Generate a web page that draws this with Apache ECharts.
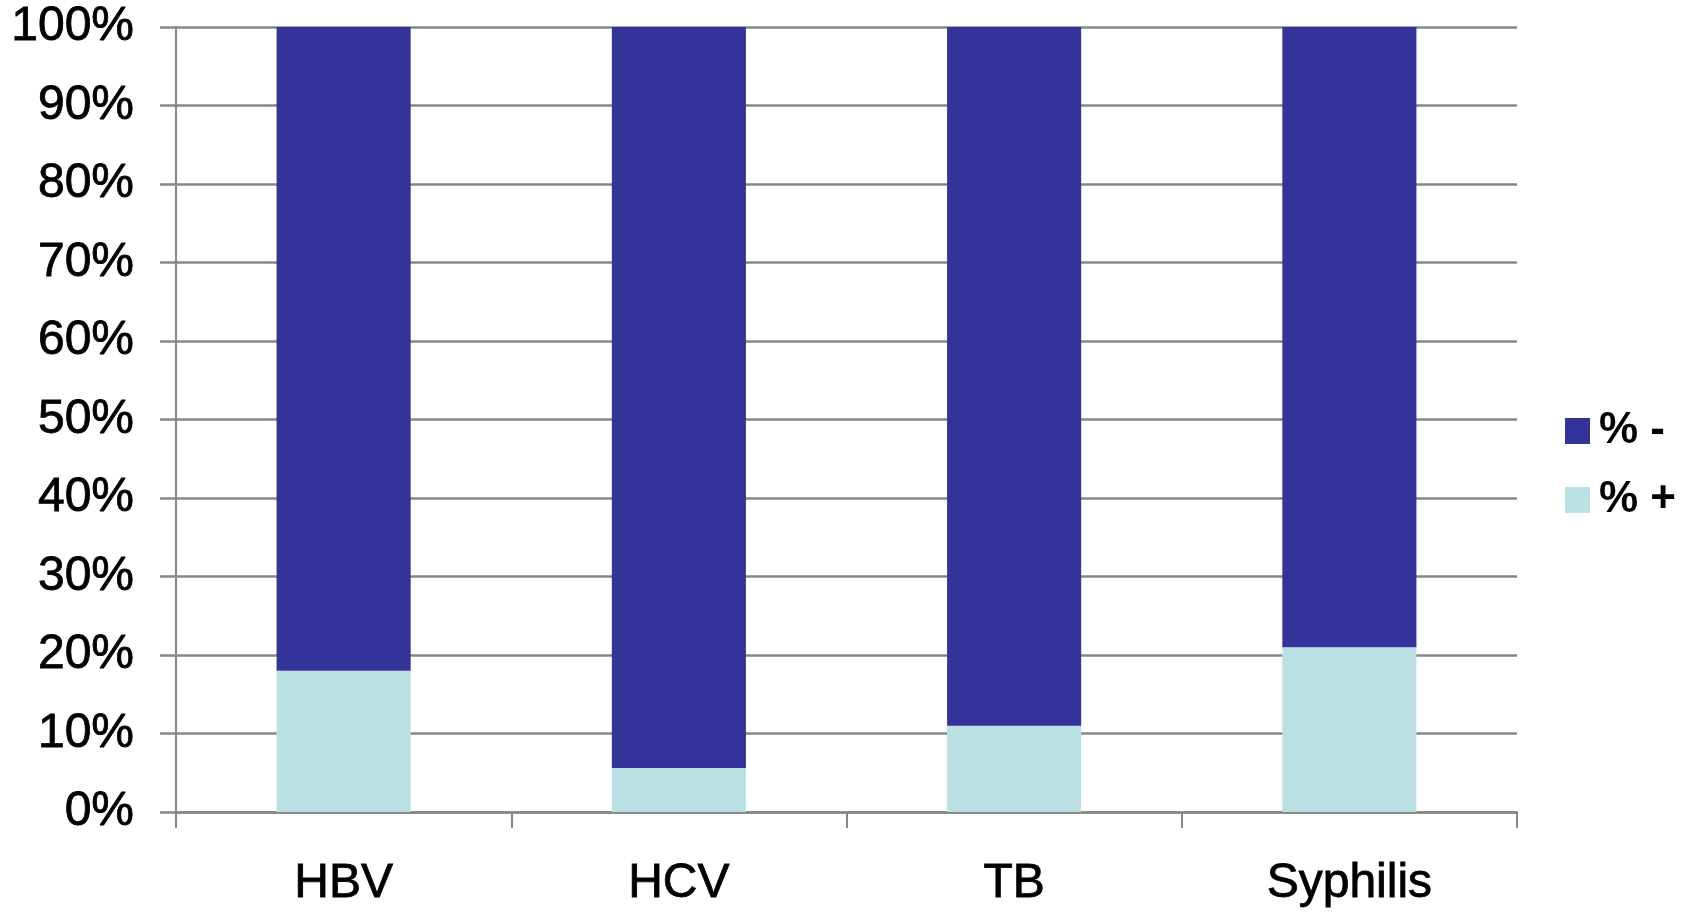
<!DOCTYPE html>
<html>
<head>
<meta charset="utf-8">
<script src="https://cdn.jsdelivr.net/npm/echarts@6/dist/echarts.min.js"></script>
<style>html,body{margin:0;padding:0;background:#fff;}#c{width:1691px;height:912px;}</style>
</head>
<body>
<div id="c"></div>
<script>
const categories = ['HBV', 'HCV', 'TB', 'Syphilis'];
const positive = [18.0, 5.6, 11.0, 21.0];
const negative = [82.0, 94.4, 89.0, 79.0];
const seriesNames = ['% -', '% +'];

const chart = echarts.init(document.getElementById('c'));
const font = 'Liberation Sans, Arial, sans-serif';
chart.setOption({
  animation: false,
  backgroundColor: '#ffffff',
  grid: { left: 176, right: 174, top: 27, bottom: 100, containLabel: false },
  legend: {
    data: seriesNames,
    orient: 'vertical',
    left: 1560, top: 403,
    itemWidth: 25, itemHeight: 26, itemGap: 23,
    icon: 'rect',
    textStyle: { fontFamily: font, fontSize: 44, fontWeight: 'bold', color: '#000', lineHeight: 46, padding: [0, 0, 0, 4] }
  },
  xAxis: {
    type: 'category',
    data: categories,
    boundaryGap: true,
    axisLine: { show: true, lineStyle: { color: '#878787', width: 2.5 } },
    axisTick: { show: true, length: 16, lineStyle: { color: '#878787', width: 2 } },
    axisLabel: { fontFamily: font, fontSize: 48, color: '#000', margin: 48, textBorderColor: '#000', textBorderWidth: 0.8 }
  },
  yAxis: {
    type: 'value',
    min: 0, max: 100, interval: 10,
    axisLine: { show: true, lineStyle: { color: '#878787', width: 2 } },
    axisTick: { show: true, length: 16, lineStyle: { color: '#878787', width: 2.5 } },
    axisLabel: { fontFamily: font, fontSize: 48, color: '#000', margin: 42, formatter: '{value}%', textBorderColor: '#000', textBorderWidth: 0.8 },
    splitLine: { show: true, lineStyle: { color: '#878787', width: 2.5 } }
  },
  series: [
    { name: '% +', type: 'bar', stack: 's', data: positive, barWidth: '40%', itemStyle: { color: '#BAE0E3' } },
    { name: '% -', type: 'bar', stack: 's', data: negative, barWidth: '40%', itemStyle: { color: '#333399' } }
  ]
});
</script>
</body>
</html>
